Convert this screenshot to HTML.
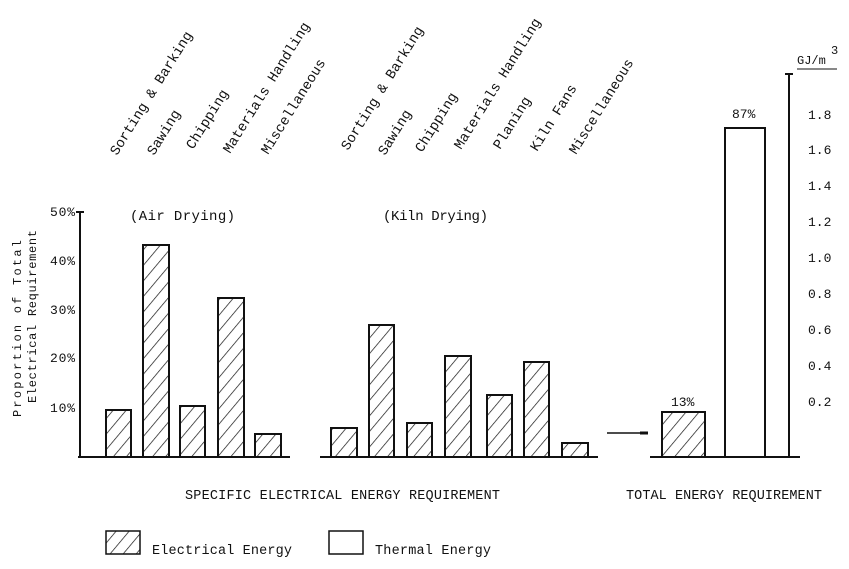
<!DOCTYPE html>
<html><head><meta charset="utf-8"><style>
html,body{margin:0;padding:0;background:#fff}
svg{display:block}
text{font-family:"Liberation Mono",monospace;fill:#111}
</style></head><body>
<svg width="849" height="569" viewBox="0 0 849 569" xmlns="http://www.w3.org/2000/svg">
<defs>
<pattern id="h" patternUnits="userSpaceOnUse" width="10" height="10" patternTransform="rotate(40)">
<line x1="0" y1="0" x2="0" y2="10" stroke="#111" stroke-width="1.4"/>
</pattern>
</defs>
<g font-size="14">
<text transform="translate(117,156) rotate(-58)">Sorting &amp; Barking</text>
<text transform="translate(154,156) rotate(-58)">Sawing</text>
<text transform="translate(193,150) rotate(-58)">Chipping</text>
<text transform="translate(230,154) rotate(-58)">Materials Handling</text>
<text transform="translate(268,155) rotate(-58)">Miscellaneous</text>
<text transform="translate(348,151) rotate(-58)">Sorting &amp; Barking</text>
<text transform="translate(385,156) rotate(-58)">Sawing</text>
<text transform="translate(422,153) rotate(-58)">Chipping</text>
<text transform="translate(461,150) rotate(-58)">Materials Handling</text>
<text transform="translate(500,150) rotate(-58)">Planing</text>
<text transform="translate(537,152) rotate(-58)">Kiln Fans</text>
<text transform="translate(576,155) rotate(-58)">Miscellaneous</text>
</g>
<g stroke="#111" stroke-width="2" fill="none">
<line x1="80" y1="212" x2="80" y2="458"/>
<line x1="76" y1="212" x2="84" y2="212"/>
<line x1="78" y1="457" x2="290" y2="457"/>
<line x1="320" y1="457" x2="598" y2="457"/>
<line x1="650" y1="457" x2="800" y2="457"/>
<line x1="789" y1="74" x2="789" y2="458"/>
<line x1="785" y1="74" x2="793" y2="74"/>
</g>
<g font-size="13">
<text x="50" y="216" textLength="25">50%</text>
<text x="50" y="265" textLength="25">40%</text>
<text x="50" y="314" textLength="25">30%</text>
<text x="50" y="362" textLength="25">20%</text>
<text x="50" y="412" textLength="25">10%</text>
<text x="130" y="220" font-size="14" textLength="105">(Air Drying)</text>
<text x="383" y="220" font-size="14" textLength="105">(Kiln Drying)</text>
</g>
<g font-size="12">
<text transform="translate(21,417) rotate(-90)" textLength="177">Proportion of Total</text>
<text transform="translate(36,403) rotate(-90)" textLength="173">Electrical Requirement</text>
</g>
<g stroke="#111" stroke-width="2" fill="url(#h)">
<rect x="106" y="410" width="25" height="47"/>
<rect x="143" y="245" width="26" height="212"/>
<rect x="180" y="406" width="25" height="51"/>
<rect x="218" y="298" width="26" height="159"/>
<rect x="255" y="434" width="26" height="23"/>
<rect x="331" y="428" width="26" height="29"/>
<rect x="369" y="325" width="25" height="132"/>
<rect x="407" y="423" width="25" height="34"/>
<rect x="445" y="356" width="26" height="101"/>
<rect x="487" y="395" width="25" height="62"/>
<rect x="524" y="362" width="25" height="95"/>
<rect x="562" y="443" width="26" height="14"/>
<rect x="662" y="412" width="43" height="45"/>
<rect x="725" y="128" width="40" height="329" fill="#fff"/>
</g>
<line x1="607" y1="433" x2="644" y2="433" stroke="#111" stroke-width="1.5"/>
<line x1="640" y1="433" x2="648" y2="433" stroke="#111" stroke-width="3"/>
<g font-size="13">
<text x="671" y="406">13%</text>
<text x="732" y="118">87%</text>
<text x="808" y="119">1.8</text>
<text x="808" y="154">1.6</text>
<text x="808" y="190">1.4</text>
<text x="808" y="226">1.2</text>
<text x="808" y="262">1.0</text>
<text x="808" y="298">0.8</text>
<text x="808" y="334">0.6</text>
<text x="808" y="370">0.4</text>
<text x="808" y="406">0.2</text>
<text x="797" y="64" font-size="12">GJ/m</text><text x="831" y="54" font-size="12">3</text>
</g>
<line x1="797" y1="69" x2="837" y2="69" stroke="#111" stroke-width="1"/>
<g font-size="13.5">
<text x="185" y="499" textLength="315">SPECIFIC ELECTRICAL ENERGY REQUIREMENT</text>
<text x="626" y="499" textLength="196">TOTAL ENERGY REQUIREMENT</text>
<text x="152" y="554" textLength="140">Electrical Energy</text>
<text x="375" y="554" textLength="116">Thermal Energy</text>
</g>
<rect x="106" y="531" width="34" height="23" fill="url(#h)" stroke="#111" stroke-width="1.5"/>
<rect x="329" y="531" width="34" height="23" fill="#fff" stroke="#111" stroke-width="1.5"/>
</svg>
</body></html>
